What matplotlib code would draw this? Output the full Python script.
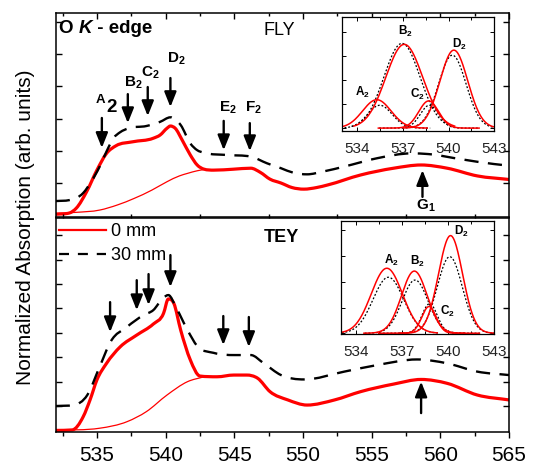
import matplotlib
matplotlib.use('Agg')
import matplotlib.pyplot as plt
import numpy as np
from matplotlib.ticker import MultipleLocator, NullFormatter, FixedLocator
from matplotlib.path import Path
from matplotlib.patches import PathPatch
from matplotlib.lines import Line2D

plt.rcParams['font.family'] = ['Liberation Sans', 'DejaVu Sans']
plt.rcParams['mathtext.fontset'] = 'custom'
plt.rcParams['mathtext.rm'] = 'Liberation Sans'
plt.rcParams['mathtext.bf'] = 'Liberation Sans:bold'
plt.rcParams['mathtext.it'] = 'Liberation Sans:italic'

# ---------------- data: FLY (top) ----------------
fly_0mm_e = [532.0, 533.0, 533.5, 534.25, 535.0, 535.7, 536.4, 537.6, 539.1, 539.6, 540.1, 540.35,
             540.7, 541.2, 541.8, 542.3, 542.8, 543.5, 544.96, 546.2, 546.9, 547.6, 548.4, 549.2,
             550.07, 551.0, 551.8, 554.2, 556.6, 558.6, 560.5, 562.7, 565.0]
fly_0mm = [0.03, 0.07, 0.22, 0.73, 1.40, 1.92, 2.16, 2.28, 2.39, 2.49, 2.70, 2.77,
           2.70, 2.34, 1.87, 1.56, 1.43, 1.40, 1.43, 1.46, 1.33, 1.12, 1.00, 0.86,
           0.81, 0.86, 0.94, 1.25, 1.46, 1.56, 1.46, 1.22, 1.11]
fly_30mm_e = [532.0, 533.0, 534.0, 534.6, 535.2, 535.7, 536.2, 536.7, 537.3, 538.6, 539.6, 540.35,
              541.1, 541.8, 542.3, 542.8, 544.5, 546.2, 547.4, 548.4, 549.3, 550.3, 551.5, 553.0,
              555.4, 557.9, 559.1, 561.5, 563.9, 565.0]
fly_30mm = [0.44, 0.47, 0.69, 1.05, 1.51, 1.98, 2.39, 2.58, 2.70, 2.77, 2.90, 3.04,
            2.80, 2.23, 2.02, 1.94, 1.87, 1.82, 1.61, 1.46, 1.32, 1.27, 1.36, 1.51,
            1.77, 1.92, 1.90, 1.74, 1.59, 1.54]
fly_step_e = [532.0, 533.5, 535.2, 536.5, 537.7, 539.0, 540.1, 541.0, 541.6, 542.3, 542.8]
fly_step = [0.06, 0.09, 0.16, 0.32, 0.52, 0.78, 1.04, 1.22, 1.30, 1.38, 1.42]

# ---------------- data: TEY (bottom) ----------------
tey_0mm_e = [532.0, 533.2, 534.0, 534.5, 535.0, 535.7, 536.7, 537.9, 539.1, 539.85, 540.2, 540.6,
             541.1, 541.8, 542.5, 543.75, 544.96, 545.9, 546.7, 547.6, 548.9, 550.3, 552.3, 554.2,
             556.6, 558.6, 560.5, 562.7, 565.0]
tey_0mm = [0.0, 0.02, 0.56, 1.25, 2.07, 2.75, 3.43, 3.91, 4.36, 4.80, 5.39, 5.21,
           4.11, 2.89, 2.23, 2.20, 2.27, 2.27, 2.14, 1.59, 1.25, 1.04, 1.25, 1.59,
           1.90, 2.09, 1.93, 1.45, 1.25]
tey_30mm_e = [532.0, 533.3, 534.3, 535.2, 536.0, 537.2, 538.4, 539.1, 539.85, 540.2, 540.8, 541.6,
              542.3, 543.5, 545.0, 546.2, 547.15, 548.4, 550.1, 553.0, 555.4, 558.3, 560.5, 562.7,
              565.0]
tey_30mm = [1.00, 1.04, 1.45, 2.61, 3.64, 4.25, 4.73, 4.93, 5.45, 5.55, 5.00, 4.11,
            3.46, 3.18, 3.09, 3.09, 2.75, 2.27, 2.09, 2.41, 2.68, 2.91, 2.75, 2.41,
            2.27]
tey_step_e = [532.0, 535.2, 537.2, 538.6, 540.1, 541.6, 542.8]
tey_step = [0.0, 0.09, 0.36, 0.77, 1.45, 2.00, 2.20]

# ---------------- arrows ----------------
fly_arrow_x = [535.36, 537.25, 538.7, 540.35, 544.23, 546.13]
fly_arrow_tail = [3.02, 3.76, 3.98, 4.26, 2.93, 2.86]
fly_arrow_tip = [2.09, 2.86, 3.08, 3.36, 2.02, 1.99]
fly_labels = ['B', 'C', 'D', 'E', 'F']
fly_label_x = [537.0, 538.2, 540.1, 543.87, 545.8]
fly_label_y = [3.99, 4.32, 4.74, 3.21, 3.21]
fly_g_x, fly_g_tip, fly_g_tail = 558.7, 1.40, 0.57

tey_arrow_x = [535.96, 537.9, 538.76, 540.35, 544.2, 546.06]
tey_arrow_tail = [5.26, 6.16, 6.41, 7.19, 4.69, 4.65]
tey_arrow_tip = [4.03, 4.93, 5.14, 5.88, 3.50, 3.42]
tey_g_x, tey_g_tip, tey_g_tail = 558.6, 2.00, 0.71

# ---------------- inset Gaussian components ----------------
peak_names = ['A', 'B', 'C', 'D']
fly_in_center_0 = [535.3, 537.1, 538.7, 540.35]
fly_in_height_0 = [1.18, 3.48, 1.13, 3.24]
fly_in_sigma_0 = [0.93, 1.21, 0.65, 0.91]
fly_in_center_30 = [535.5, 536.95, 538.75, 540.25]
fly_in_height_30 = [0.95, 3.52, 0.95, 3.03]
fly_in_sigma_30 = [0.80, 1.18, 0.60, 0.90]
fly_in_lab_x = [533.9, 536.7, 537.5, 540.2]
fly_in_lab_y = [1.33, 3.86, 1.24, 3.33]

tey_in_center_0 = [536.0, 537.8, 538.76, 540.17]
tey_in_height_0 = [2.53, 2.42, 1.04, 3.80]
tey_in_sigma_0 = [1.02, 0.84, 0.47, 0.79]
tey_in_center_30 = [536.1, 537.85, 538.8, 540.12]
tey_in_height_30 = [2.18, 2.07, 1.15, 2.98]
tey_in_sigma_30 = [1.00, 0.85, 0.50, 0.82]
tey_in_lab_x = [535.8, 537.5, 539.47, 540.4]
tey_in_lab_y = [2.70, 2.66, 0.71, 3.84]

RED = '#ff0000'


def smooth_curve(ax, xs, ys, **kw):
    """Draw a smooth, non-overshooting cubic Bezier path through the data points."""
    x = np.asarray(xs, float)
    y = np.asarray(ys, float)
    h = np.diff(x)
    d = np.diff(y) / h
    m = np.empty_like(x)
    m[0], m[-1] = d[0], d[-1]
    m[1:-1] = (d[:-1] * h[1:] + d[1:] * h[:-1]) / (h[:-1] + h[1:])
    for i in range(1, len(x) - 1):
        if d[i - 1] * d[i] <= 0:
            m[i] = 0.0
        else:
            lim = 3 * min(abs(d[i - 1]), abs(d[i]))
            m[i] = np.sign(m[i]) * min(abs(m[i]), lim)
    verts = [(x[0], y[0])]
    codes = [Path.MOVETO]
    for i in range(len(x) - 1):
        verts += [(x[i] + h[i] / 3, y[i] + m[i] * h[i] / 3),
                  (x[i + 1] - h[i] / 3, y[i + 1] - m[i + 1] * h[i] / 3),
                  (x[i + 1], y[i + 1])]
        codes += [Path.CURVE4] * 3
    p = PathPatch(Path(verts, codes), fill=False, **kw)
    ax.add_patch(p)
    return p


fig = plt.figure(figsize=(5.33, 4.67), dpi=100)
ax1 = fig.add_axes([0.1045, 0.5343, 0.8505, 0.4379])
ax2 = fig.add_axes([0.1045, 0.0749, 0.8505, 0.4593])

for ax in (ax1, ax2):
    ax.set_xlim(532, 565)
    ax.xaxis.set_major_locator(MultipleLocator(5))
    ax.xaxis.set_minor_locator(MultipleLocator(2.5))
    for s in ax.spines.values():
        s.set_linewidth(1.1)
    ax.yaxis.set_major_formatter(NullFormatter())

ax1.set_ylim(-0.07, 6.28)
ax1.set_yticks([1, 2, 3, 4, 5, 6])
ax2.set_ylim(-0.066, 8.73)
ax2.set_yticks([1, 2, 3, 4, 5, 6, 7, 8])

ax1.tick_params(axis='x', which='both', bottom=False, top=True, labelbottom=False,
                direction='in', length=4, width=1)
ax1.tick_params(axis='x', which='minor', length=2.5)
ax2.tick_params(axis='x', which='both', bottom=True, top=True, direction='out', labelsize=15,
                length=4, width=1, pad=6)
ax2.tick_params(axis='x', which='major', top=False)
ax2.tick_params(axis='x', which='minor', length=3, top=True)
for ax in (ax1, ax2):
    ax.tick_params(axis='y', which='both', left=True, right=True, direction='out',
                   length=4, width=1)
    ax.tick_params(axis='y', which='both', left=True, direction='in')

# curves
smooth_curve(ax1, fly_step_e, fly_step, edgecolor=RED, lw=0.9)
smooth_curve(ax1, fly_0mm_e, fly_0mm, edgecolor=RED, lw=2.3, joinstyle='round', capstyle='round')
smooth_curve(ax1, fly_30mm_e, fly_30mm, edgecolor='k', lw=1.7, ls=(0, (6, 4)))

smooth_curve(ax2, tey_step_e, tey_step, edgecolor=RED, lw=0.9)
smooth_curve(ax2, tey_0mm_e, tey_0mm, edgecolor=RED, lw=2.3, joinstyle='round', capstyle='round')
smooth_curve(ax2, tey_30mm_e, tey_30mm, edgecolor='k', lw=1.7, ls=(0, (6, 4)))

h0 = Line2D([], [], color=RED, lw=1.6)
h30 = Line2D([], [], color='k', lw=1.6, dashes=(4.5, 4))
ax2.legend([h0, h30], ['0 mm', '30 mm'], loc='upper left', bbox_to_anchor=(-0.005, 1.0),
           frameon=False, fontsize=13, handlelength=2.6, handletextpad=0.3,
           labelspacing=0.4, borderaxespad=0.0, borderpad=0.3)

ap = dict(arrowstyle='-|>,head_length=0.75,head_width=0.3', color='k', lw=1.7,
          shrinkA=0, shrinkB=0, mutation_scale=12)
for x, t0, t1 in zip(fly_arrow_x, fly_arrow_tail, fly_arrow_tip):
    ax1.annotate('', xy=(x, t1), xytext=(x, t0), arrowprops=ap)
ax1.annotate('', xy=(fly_g_x, fly_g_tip), xytext=(fly_g_x, fly_g_tail), arrowprops=ap)
for x, t0, t1 in zip(tey_arrow_x, tey_arrow_tail, tey_arrow_tip):
    ax2.annotate('', xy=(x, t1), xytext=(x, t0), arrowprops=ap)
ax2.annotate('', xy=(tey_g_x, tey_g_tip), xytext=(tey_g_x, tey_g_tail), arrowprops=ap)

for lab, x, y in zip(fly_labels, fly_label_x, fly_label_y):
    ax1.text(x, y, r'$\mathbf{%s_2}$' % lab, fontsize=11, ha='left', va='baseline')
ax1.text(534.94, 3.47, 'A', fontsize=9.5, fontweight='bold', ha='left', va='baseline')
ax1.text(535.67, 3.21, '2', fontsize=13.5, fontweight='bold', ha='left', va='baseline')
ax1.text(558.2, 0.18, r'$\mathbf{G_1}$', fontsize=11, ha='left', va='baseline')

# titles
t = ax1.text(532.24, 5.66, 'O ', fontsize=13.5, fontweight='bold', ha='left', va='baseline')
fig.canvas.draw()
r = fig.canvas.get_renderer()
bb = t.get_window_extent(r)
inv = ax1.transData.inverted()
xk = inv.transform((bb.x1, bb.y0))[0]
t2 = ax1.text(xk, 5.66, 'K', fontsize=13.5, fontweight='bold', style='italic', ha='left',
              va='baseline')
bb2 = t2.get_window_extent(r)
xe = inv.transform((bb2.x1, bb2.y0))[0]
ax1.text(xe, 5.66, ' - edge', fontsize=13.5, fontweight='bold', ha='left', va='baseline')

ax1.text(547.14, 5.60, 'FLY', fontsize=13, ha='left', va='baseline')
ax2.text(547.14, 7.73, 'TEY', fontsize=13, fontweight='bold', ha='left', va='baseline')

fig.text(0.047, 0.514, 'Normalized Absorption (arb. units)', rotation=90, fontsize=15,
         ha='center', va='center')


# insets
def make_inset(rect, ylim, c0, h0_, s0, c30, h30_, s30, lx, ly):
    ia = fig.add_axes(rect)
    ia.set_xlim(533, 543)
    ia.set_ylim(*ylim)
    ia.set_xticks([534, 537, 540, 543])
    ia.xaxis.set_minor_locator(FixedLocator([535.5, 538.5, 541.5]))
    ia.yaxis.set_major_locator(MultipleLocator(1))
    ia.yaxis.set_major_formatter(NullFormatter())
    ia.tick_params(which='both', direction='in', top=True, right=True, length=3, width=0.7,
                   labelsize=11, labelcolor='#222222', pad=8)
    ia.tick_params(which='minor', length=2)
    for s in ia.spines.values():
        s.set_linewidth(0.9)
    for c, h, s in zip(c30, h30_, s30):
        e = np.linspace(c - 3.3, c + 3.3, 200)
        ia.plot(e, h * np.exp(-0.5 * ((e - c) / s) ** 2), color='k', lw=0.9, ls=(0, (1.5, 1.5)))
    for c, h, s in zip(c0, h0_, s0):
        e = np.linspace(c - 3.3, c + 3.3, 200)
        ia.plot(e, h * np.exp(-0.5 * ((e - c) / s) ** 2), color=RED, lw=1.1)
    for n, x, y in zip(peak_names, lx, ly):
        ia.text(x, y, r'$\mathbf{%s_2}$' % n, fontsize=8.5, ha='left', va='baseline')
    return ia


make_inset([0.6411, 0.7195, 0.2863, 0.2448], (-0.12, 4.63),
           fly_in_center_0, fly_in_height_0, fly_in_sigma_0,
           fly_in_center_30, fly_in_height_30, fly_in_sigma_30, fly_in_lab_x, fly_in_lab_y)
make_inset([0.6398, 0.2848, 0.2866, 0.2420], (-0.03, 4.37),
           tey_in_center_0, tey_in_height_0, tey_in_sigma_0,
           tey_in_center_30, tey_in_height_30, tey_in_sigma_30, tey_in_lab_x, tey_in_lab_y)

fig.savefig('out.png', dpi=100)
